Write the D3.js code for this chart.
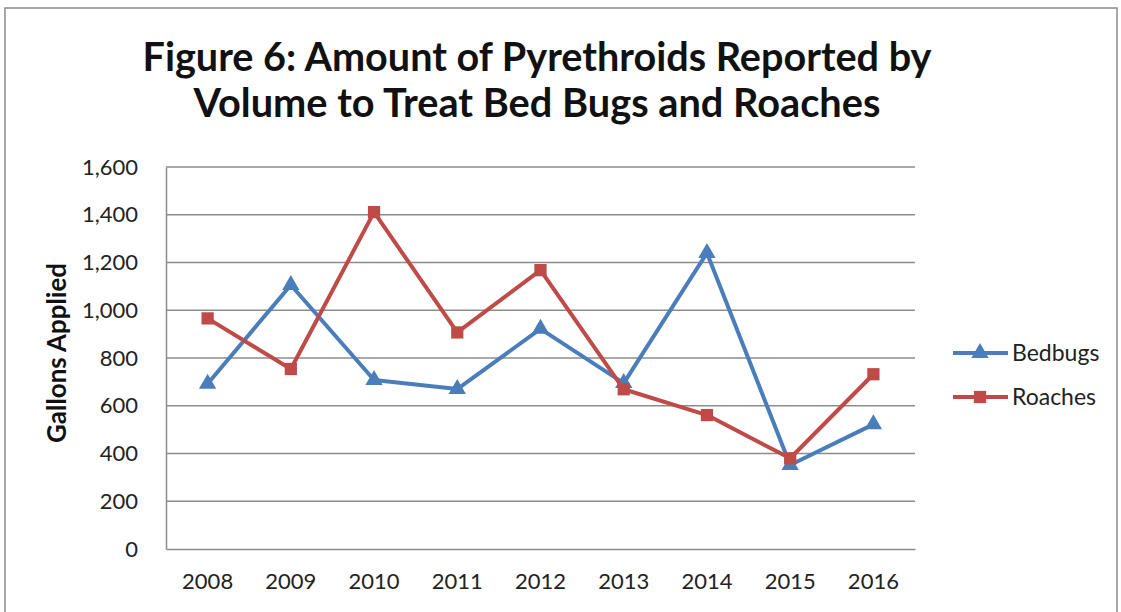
<!DOCTYPE html>
<html><head><meta charset="utf-8">
<script src="https://cdn.jsdelivr.net/npm/d3@7"></script>
<style>body{margin:0;background:#fff}svg{display:block}</style>
</head><body>
<svg id="c" width="1121" height="612"></svg>
<script>
const years = ["2008","2009","2010","2011","2012","2013","2014","2015","2016"];
const bedbugs = [692, 1106, 708, 670, 922, 695, 1240, 352, 522];
const roaches = [966, 754, 1411, 907, 1168, 669, 561, 380, 732];
const yTicks = [0, 200, 400, 600, 800, 1000, 1200, 1400, 1600];
const titleLines = ["Figure 6: Amount of Pyrethroids Reported by", "Volume to Treat Bed Bugs and Roaches"];
const series = [
  {name: "Bedbugs", values: bedbugs, color: "#4A7EBB", marker: "triangle"},
  {name: "Roaches", values: roaches, color: "#BE4B48", marker: "square"}
];

const svg = d3.select("#c");
const font = "Lato, 'Open Sans', sans-serif";
const grid = "#8c8c8c";
const L = 166, R = 915, T = 167, B = 549;

svg.append("rect").attr("x", 5).attr("y", 8).attr("width", 1112).attr("height", 640)
  .attr("fill", "#fff").attr("stroke", "#8c8c8c").attr("stroke-width", 1.5);

function fit(sel, w) {
  const n = sel.node();
  const cur = n.getComputedTextLength();
  const fs = parseFloat(sel.attr("font-size"));
  sel.attr("font-size", fs * w / cur);
}

// Title
const t1 = svg.append("text").attr("x", 537).attr("y", 71).attr("text-anchor", "middle")
  .attr("font-family", font).attr("font-weight", "bold").attr("font-size", 34).attr("fill", "#111")
  .text(titleLines[0]);
fit(t1, 789);
const t2 = svg.append("text").attr("x", 537).attr("y", 117).attr("text-anchor", "middle")
  .attr("font-family", font).attr("font-weight", "bold").attr("font-size", 34).attr("fill", "#111")
  .text(titleLines[1]);
fit(t2, 687);

const x = d3.scaleBand().domain(years).range([L, R]);
const y = d3.scaleLinear().domain([0, 1600]).range([B, T]);

// gridlines
svg.append("g").selectAll("line").data(yTicks.filter(d => d > 0)).join("line")
  .attr("x1", L).attr("x2", R).attr("y1", d => y(d)).attr("y2", d => y(d))
  .attr("stroke", grid).attr("stroke-width", 1.5);

// axes
const yAxis = svg.append("g").attr("transform", `translate(${L},0)`)
  .call(d3.axisLeft(y).tickValues(yTicks).tickSize(0).tickPadding(28).tickFormat(d3.format(",")));
yAxis.select(".domain").attr("stroke", grid).attr("stroke-width", 1.5);
yAxis.selectAll("text").attr("font-family", font).attr("font-size", 22).attr("fill", "#222");

const xAxis = svg.append("g").attr("transform", `translate(0,${B})`)
  .call(d3.axisBottom(x).tickSize(0).tickPadding(24));
xAxis.select(".domain").attr("stroke", grid).attr("stroke-width", 1.5);
xAxis.selectAll("text").attr("font-family", font).attr("font-size", 22).attr("fill", "#222");

// y title
const yt = svg.append("text").attr("transform", "translate(66,353) rotate(-90)")
  .attr("text-anchor", "middle").attr("font-family", font).attr("font-weight", "bold")
  .attr("font-size", 19).attr("fill", "#111").text("Gallons Applied");
fit(yt, 180);

const line = d3.line().x((d, i) => x(years[i]) + x.bandwidth() / 2).y(d => y(d));
const sym = {triangle: d3.symbol().type(d3.symbolTriangle).size(130),
             square: d3.symbol().type(d3.symbolSquare).size(150)};

series.forEach(s => {
  svg.append("path").datum(s.values).attr("d", line).attr("fill", "none")
    .attr("stroke", s.color).attr("stroke-width", 4).attr("stroke-linejoin", "round");
  svg.append("g").selectAll("path").data(s.values).join("path")
    .attr("transform", (d, i) => `translate(${x(years[i]) + x.bandwidth() / 2},${y(d)})`)
    .attr("d", sym[s.marker]()).attr("fill", s.color);
});

// legend
series.forEach((s, i) => {
  const ly = 353 + i * 44;
  const g = svg.append("g");
  g.append("line").attr("x1", 953).attr("x2", 1008).attr("y1", ly).attr("y2", ly)
    .attr("stroke", s.color).attr("stroke-width", 4);
  g.append("path").attr("transform", `translate(980,${ly})`).attr("d", sym[s.marker]()).attr("fill", s.color);
  g.append("text").attr("x", 1012).attr("y", ly + 8).attr("font-family", font)
    .attr("font-size", 23).attr("fill", "#222").text(s.name);
});
</script>
</body></html>
